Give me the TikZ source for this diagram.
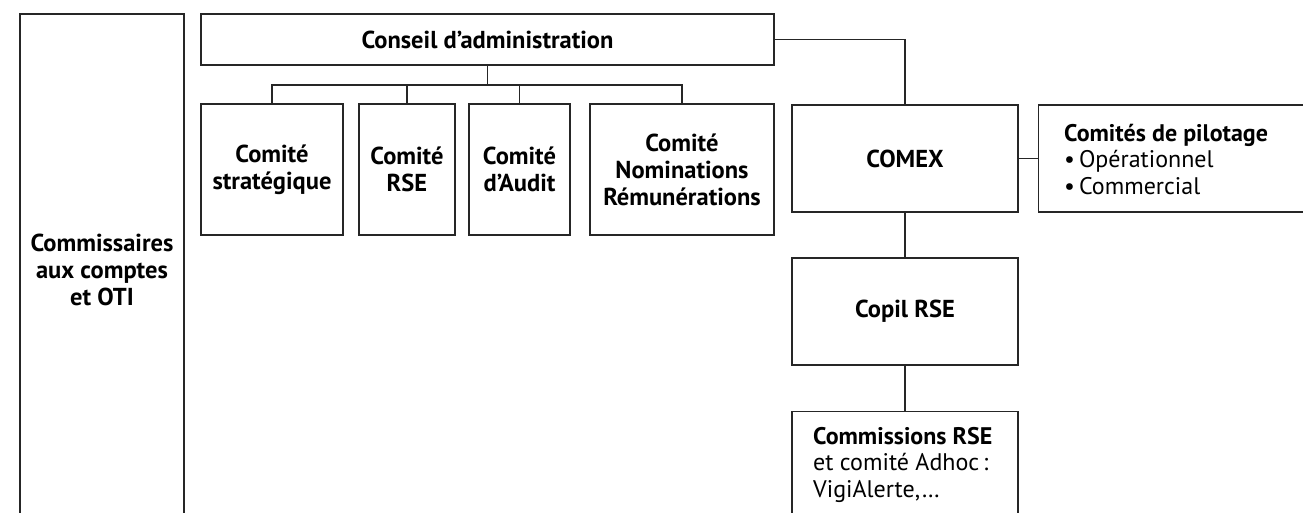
\documentclass[tikz,border=0pt]{standalone}
\usepackage{fontspec}
\setmainfont{PT Sans}
\begin{document}
\begin{tikzpicture}[x=1pt,y=-1pt,
  box/.style={draw=black!85,line width=1.3pt,rectangle,inner sep=0pt,align=center,font=\fontsize{24.5}{27}\selectfont\bfseries},
  txt/.style={inner sep=0pt,align=left,font=\fontsize{24}{26.5}\selectfont},
  link/.style={draw=black!85,line width=1.3pt}]
\useasboundingbox (0,0) rectangle (1303,512);
\clip (0,0) rectangle (1303,512);
\fill[white] (0,0) rectangle (1303,512);
% left box
\node[box,minimum width=164pt,minimum height=512pt] (cac) at (102,270) {Commissaires\\aux comptes\\et OTI};
% conseil
\node[box,minimum width=573pt,minimum height=51pt] (ca) at (487.5,39.5) {Conseil d’administration};
% committees
\node[box,minimum width=142pt,minimum height=131pt] (strat) at (272,169.5) {Comité\\stratégique};
\node[box,minimum width=96pt,minimum height=131pt] (rse) at (407,169.5) {Comité\\RSE};
\node[box,minimum width=101pt,minimum height=131pt] (audit) at (519.5,169.5) {Comité\\d’Audit};
\node[box,minimum width=184pt,minimum height=131pt] (nom) at (682,169.5) {Comité\\Nominations\\Rémunérations};
% comex
\node[box,minimum width=226pt,minimum height=107pt] (comex) at (905,158.5) {COMEX};
\node[box,minimum width=290pt,minimum height=107pt,anchor=west] (pil) at (1038,158.5) {};
\node[txt,anchor=west] (piltxt) at (1064,159) {\textbf{Comités de pilotage}\\•\,Opérationnel\\•\,Commercial};
\node[box,minimum width=226pt,minimum height=107pt] (copil) at (905,311.5) {Copil RSE};
\node[box,minimum width=226pt,minimum height=150pt,anchor=north] (com) at (905,411) {};
\node[txt,anchor=north west] (comtxt) at (813,427) {\textbf{Commissions RSE}\\et comité Adhoc\,:\\VigiAlerte,…};
% connectors
\coordinate (bus) at (487.5,85);
\draw[link] (ca.south) -- (bus);
\draw[link] (strat.north) |- (nom.north |- bus) -- (nom.north);
\draw[link] (rse.north) -- (rse.north |- bus);
\draw[link] (audit.north) -- (audit.north |- bus);
\draw[link] (ca.east) -| (comex.north);
\draw[link] (comex.east) -- (pil.west);
\draw[link] (comex.south) -- (copil.north);
\draw[link] (copil.south) -- (com.north);
\end{tikzpicture}
\end{document}
